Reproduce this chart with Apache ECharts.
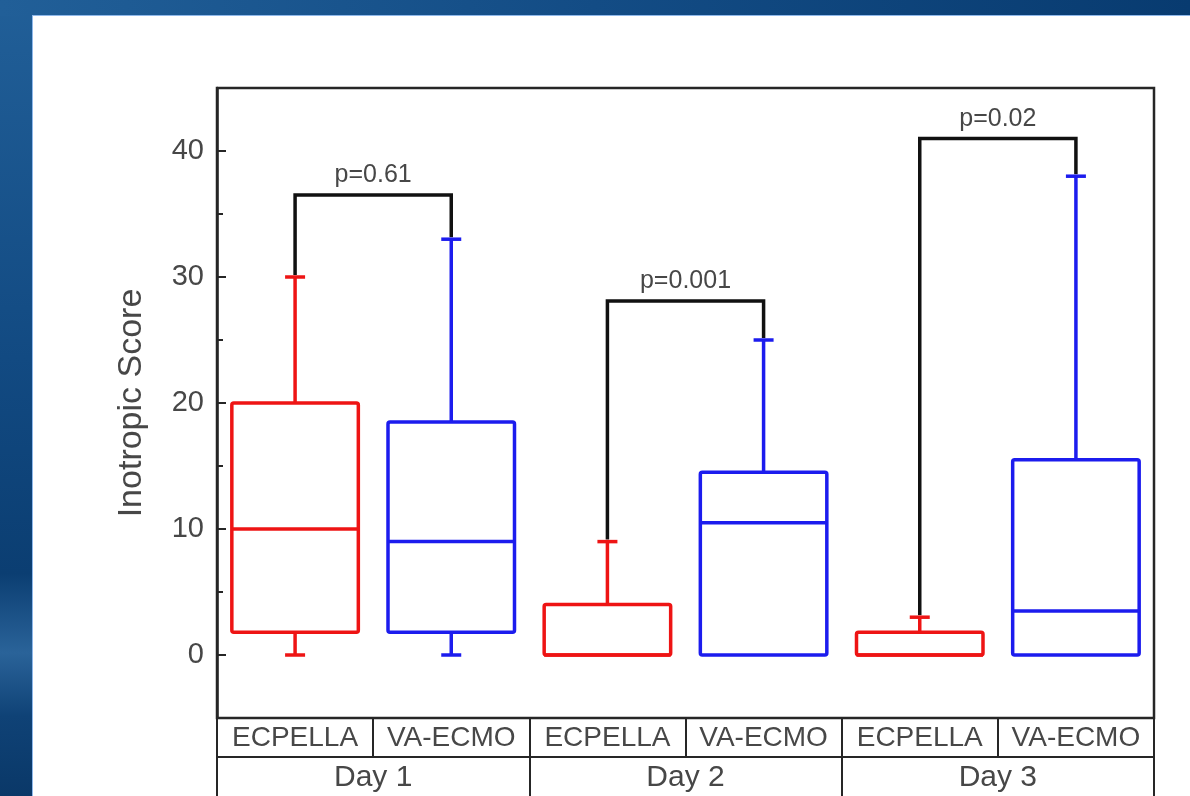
<!DOCTYPE html>
<html>
<head>
<meta charset="utf-8">
<script src="https://cdn.jsdelivr.net/npm/echarts@6/dist/echarts.min.js"></script>
<style>
html,body{margin:0;padding:0;width:1190px;height:796px;overflow:hidden;}
body{position:relative;background:#0d3f73;}
#left{position:absolute;left:0;top:0;width:33px;height:796px;
  background:linear-gradient(180deg,#215f98 0%,#124a82 45%,#0b3e72 72%,#2a6399 82%,#0f4276 90%,#0a3868 100%);}
#top{position:absolute;left:0;top:0;width:1190px;height:16px;
  background:linear-gradient(90deg,#215f98 0%,#134c85 50%,#083b70 100%);}
#paper{position:absolute;left:32px;top:15px;width:1158px;height:781px;background:#fff;
  border-left:1px solid #8fb8ea;border-top:1px solid #8fb8ea;box-sizing:border-box;}
#chart{position:absolute;left:0;top:0;width:1190px;height:796px;}
</style>
</head>
<body>
<div id="left"></div>
<div id="top"></div>
<div id="paper"></div>
<div id="chart"></div>
<script>
// ---- data ----
const categories = ['ECPELLA', 'VA-ECMO', 'ECPELLA', 'VA-ECMO', 'ECPELLA', 'VA-ECMO'];
const days = ['Day 1', 'Day 2', 'Day 3'];
const whiskerMin = [0, 0, 0, 0, 0, 0];
const q1 = [1.8, 1.8, 0, 0, 0, 0];
const median = [10, 9, 0, 10.5, 0, 3.5];
const q3 = [20, 18.5, 4, 14.5, 1.8, 15.5];
const whiskerMax = [30, 33, 9, 25, 3, 38];
const yTicks = [0, 10, 20, 30, 40];
const yMinorTicks = [5, 15, 25, 35];
const bracketLeft = [0, 2, 4];
const bracketRight = [1, 3, 5];
const bracketTop = [36.5, 28.1, 41];
const pLabels = ['p=0.61', 'p=0.001', 'p=0.02'];

const RED = '#ee1414';
const BLUE = '#1c1cee';
const TEXT = '#474747';
const LINE = '#262626';
const FONT = 'Liberation Sans, Arial, sans-serif';

const boxData = categories.map((c, i) => [i, whiskerMin[i], q1[i], median[i], q3[i], whiskerMax[i]]);
const bracketData = bracketLeft.map((l, k) => [l, bracketRight[k], whiskerMax[l], whiskerMax[bracketRight[k]], bracketTop[k]]);

const chart = echarts.init(document.getElementById('chart'));
chart.setOption({
  backgroundColor: 'transparent',
  animation: false,
  grid: {left: 217, right: 36, top: 88, bottom: 78, show: true, borderColor: LINE, borderWidth: 2.5, backgroundColor: 'transparent'},
  xAxis: [
    {
      type: 'category', data: categories, position: 'bottom', boundaryGap: true,
      axisLine: {show: true, onZero: false, lineStyle: {color: LINE, width: 2}},
      axisTick: {show: true, interval: 0, alignWithLabel: false, length: 39, lineStyle: {color: LINE, width: 2}},
      axisLabel: {interval: 0, margin: 6, fontSize: 28, color: TEXT, fontFamily: FONT},
      splitLine: {show: false}
    },
    {
      type: 'category', data: days, position: 'bottom', offset: 39, boundaryGap: true,
      axisLine: {show: true, onZero: false, lineStyle: {color: LINE, width: 2}},
      axisTick: {show: true, interval: 0, alignWithLabel: false, length: 45, lineStyle: {color: LINE, width: 2}},
      axisLabel: {interval: 0, margin: 6, fontSize: 30, color: TEXT, fontFamily: FONT},
      splitLine: {show: false}
    }
  ],
  yAxis: [
    {
      type: 'value', min: -5, max: 45, position: 'left',
      name: 'Inotropic Score', nameLocation: 'middle', nameGap: 68, nameRotate: 90,
      nameTextStyle: {fontSize: 34, color: TEXT, fontFamily: FONT},
      axisLine: {show: true, lineStyle: {color: LINE, width: 2.5}},
      axisTick: {show: true, inside: true, length: 9, customValues: yTicks, lineStyle: {color: LINE, width: 2}},
      axisLabel: {customValues: yTicks, margin: 13, fontSize: 29, color: TEXT, fontFamily: FONT},
      splitLine: {show: false}
    },
    {
      type: 'value', min: -5, max: 45, position: 'left',
      axisLine: {show: false},
      axisTick: {show: true, inside: true, length: 6, customValues: yMinorTicks, lineStyle: {color: LINE, width: 2}},
      axisLabel: {show: false},
      splitLine: {show: false}
    }
  ],
  series: [
    {
      type: 'custom', name: 'boxes', xAxisIndex: 0, yAxisIndex: 0,
      data: boxData,
      encode: {x: 0, y: [1, 2, 3, 4, 5]},
      renderItem: function (params, api) {
        const i = api.value(0);
        const color = i % 2 === 0 ? RED : BLUE;
        const xC = api.coord([i, 0])[0];
        const bw = api.size([1, 0])[0] * 0.81;
        const h = bw / 2;
        const yMin = api.coord([i, api.value(1)])[1];
        const yQ1 = api.coord([i, api.value(2)])[1];
        const yMed = api.coord([i, api.value(3)])[1];
        const yQ3 = api.coord([i, api.value(4)])[1];
        const yMax = api.coord([i, api.value(5)])[1];
        const st = {stroke: color, lineWidth: 3.5, fill: null};
        const cap = 10;
        const ch = [
          {type: 'line', shape: {x1: xC, y1: yQ3, x2: xC, y2: yMax}, style: st},
          {type: 'line', shape: {x1: xC - cap, y1: yMax, x2: xC + cap, y2: yMax}, style: st},
          {type: 'rect', shape: {x: xC - h, y: yQ3, width: bw, height: yQ1 - yQ3, r: 2}, style: {stroke: color, lineWidth: 3.5, fill: 'rgba(0,0,0,0)'}},
          {type: 'line', shape: {x1: xC - h, y1: yMed, x2: xC + h, y2: yMed}, style: st}
        ];
        if (api.value(2) > api.value(1)) {
          ch.push({type: 'line', shape: {x1: xC, y1: yQ1, x2: xC, y2: yMin}, style: st});
          ch.push({type: 'line', shape: {x1: xC - cap, y1: yMin, x2: xC + cap, y2: yMin}, style: st});
        }
        return {type: 'group', children: ch};
      },
      z: 3
    },
    {
      type: 'custom', name: 'brackets', xAxisIndex: 0, yAxisIndex: 0,
      data: bracketData,
      encode: {x: [0, 1], y: [2, 3, 4]},
      renderItem: function (params, api) {
        const l = api.value(0), r = api.value(1);
        const xL = api.coord([l, 0])[0];
        const xR = api.coord([r, 0])[0];
        const yL = api.coord([l, api.value(2)])[1] - 2;
        const yR = api.coord([r, api.value(3)])[1] - 2;
        const yT = api.coord([l, api.value(4)])[1];
        return {
          type: 'group',
          children: [
            {type: 'polyline', shape: {points: [[xL, yL], [xL, yT], [xR, yT], [xR, yR]]},
              style: {stroke: '#111', lineWidth: 3.5, fill: null, lineJoin: 'miter'}},
            {type: 'text', x: (xL + xR) / 2, y: yT - 7,
              style: {text: pLabels[params.dataIndex], align: 'center', verticalAlign: 'bottom',
                fontSize: 25, fill: TEXT, fontFamily: FONT}}
          ]
        };
      },
      z: 2
    }
  ]
});
</script>
</body>
</html>
